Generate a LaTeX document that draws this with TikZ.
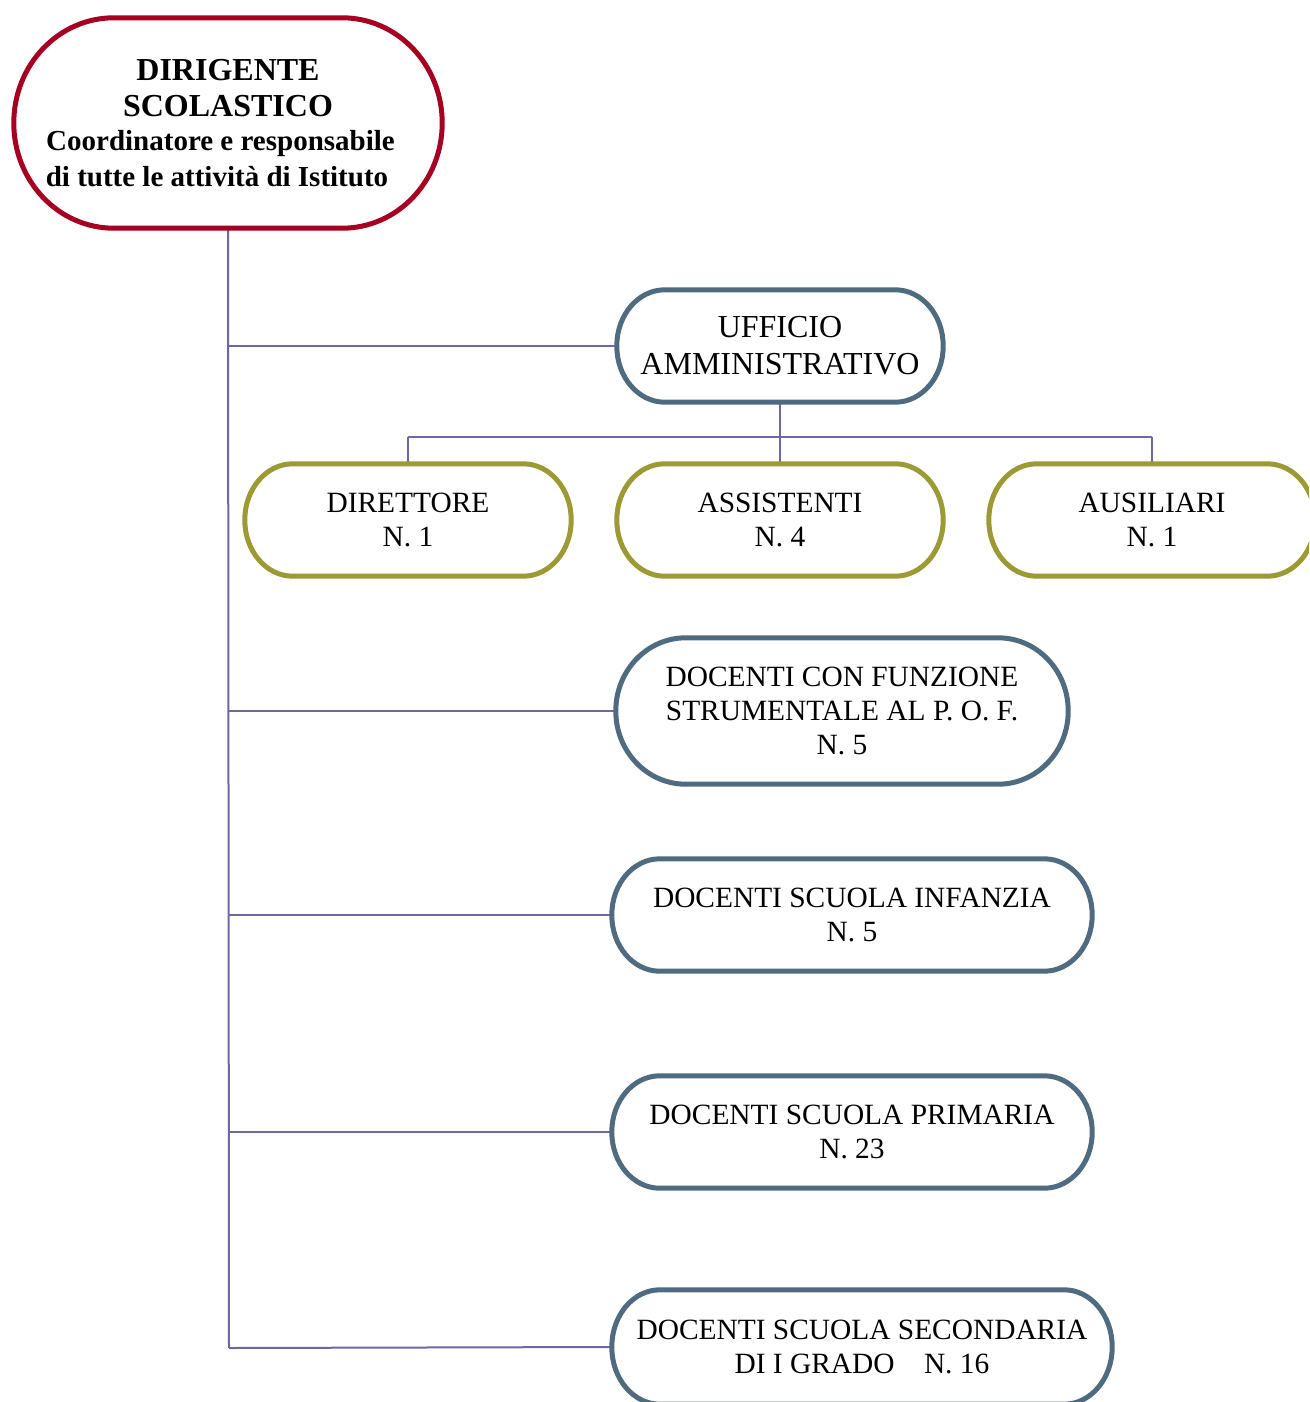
\documentclass[tikz,border=0pt]{standalone}
\usepackage{fontspec}
\setmainfont{Liberation Serif}
\usetikzlibrary{calc}
\definecolor{headred}{RGB}{165,0,33}
\definecolor{slateblue}{RGB}{78,107,128}
\definecolor{olivegreen}{RGB}{156,154,53}
\definecolor{linkpurple}{RGB}{112,102,160}
\tikzset{
  box/.style={align=center, inner sep=0pt, font=\fontsize{29.4}{34}\selectfont},
  headbox/.style={box, minimum width=428pt, minimum height=210pt,
    font=\bfseries\fontsize{32}{36}\selectfont},
  bluebox/.style={box, minimum height=112pt},
  olivebox/.style={box, minimum width=326pt, minimum height=112pt},
  rim/.style={line width=5pt},
  link/.style={draw=linkpurple, line width=2pt}
}
% rounded box outline with elliptical ends: node, x radius, y radius, style
\newcommand\pillborder[4]{%
  \draw[rim,#4] ($(#1.north west)+(#2,0)$) -- ($(#1.north east)+(-#2,0)$)
    .. controls +(0.5523*#2,0) and +(0,-0.5523*#3) .. ($(#1.north east)+(0,#3)$)
    -- ($(#1.south east)+(0,-#3)$)
    .. controls +(0,0.5523*#3) and +(0.5523*#2,0) .. ($(#1.south east)+(-#2,0)$)
    -- ($(#1.south west)+(#2,0)$)
    .. controls +(-0.5523*#2,0) and +(0,0.5523*#3) .. ($(#1.south west)+(0,-#3)$)
    -- ($(#1.north west)+(0,#3)$)
    .. controls +(0,-0.5523*#3) and +(-0.5523*#2,0) .. ($(#1.north west)+(#2,0)$)
    -- cycle;}
\begin{document}
\begin{tikzpicture}[x=1pt, y=-1pt]
\clip (0,0) rectangle (1309,1402);
\fill[white] (0,0) rectangle (1309,1402);

% branch points on the trunk and on the office bus
\coordinate (bUff) at (229,346);
\coordinate (bPof) at (229,711);
\coordinate (bInf) at (229,915);
\coordinate (bPri) at (229,1132);
\coordinate (bSec) at (229,1348);
\coordinate (busL) at (408,437);
\coordinate (busM) at (780,437);
\coordinate (busR) at (1152,437);

% boxes (text)
\node[headbox] (ds) at (228,123) {DIRIGENTE\\SCOLASTICO\\[-2pt]
  \fontsize{29}{32}\selectfont Coordinatore e responsabile\hbox to 15pt{}\\
  \fontsize{29}{32}\selectfont di tutte le attività di Istituto\hbox to 22pt{}};
\node[bluebox, minimum width=326pt, font=\fontsize{32}{37}\selectfont] (uff) at (780,346) {UFFICIO\\AMMINISTRATIVO};
\node[olivebox] (dirt) at (408,520) {DIRETTORE\\N. 1};
\node[olivebox] (ass) at (780,520) {ASSISTENTI\\N. 4};
\node[olivebox] (aus) at (1152,520) {AUSILIARI\\N. 1};
\node[bluebox, minimum width=452pt, minimum height=146pt] (pof) at (842,711)
  {DOCENTI CON FUNZIONE\\STRUMENTALE AL P. O. F.\\N. 5};
\node[bluebox, minimum width=480pt] (inf) at (852,915) {DOCENTI SCUOLA INFANZIA\\N. 5};
\node[bluebox, minimum width=480pt] (pri) at (852,1132) {DOCENTI SCUOLA PRIMARIA\\N. 23};
\node[bluebox, minimum width=500pt, minimum height=114pt] (sec) at (862,1347)
  {DOCENTI SCUOLA SECONDARIA\\DI I GRADO\quad N. 16};

% connectors
\path[link] (ds.south) -- (bSec);
\path[link] (bUff) -- (uff.west);
\path[link] (bPof) -- (pof.west);
\path[link] (bInf) -- (inf.west);
\path[link] (bPri) -- (pri.west);
\path[link] (bSec) -- (sec.west);
\path[link] (uff.south) -- (busM);
\path[link] (busL) -- (busR);
\path[link] (busL) -- (dirt.north);
\path[link] (busM) -- (ass.north);
\path[link] (busR) -- (aus.north);

% outlines
\pillborder{ds}{100}{105}{headred}
\pillborder{uff}{48}{56}{slateblue}
\pillborder{dirt}{48}{56}{olivegreen}
\pillborder{ass}{48}{56}{olivegreen}
\pillborder{aus}{48}{56}{olivegreen}
\pillborder{pof}{70}{73}{slateblue}
\pillborder{inf}{48}{56}{slateblue}
\pillborder{pri}{48}{56}{slateblue}
\pillborder{sec}{48}{57}{slateblue}
\end{tikzpicture}
\end{document}
